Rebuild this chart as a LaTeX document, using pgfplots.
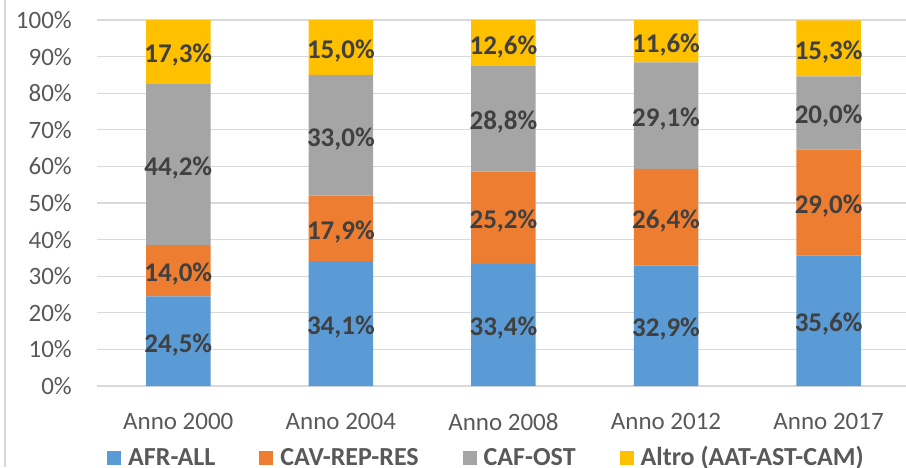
\documentclass[border=0pt]{standalone}
\usepackage{pgfplots}
\pgfplotsset{compat=1.18}
\usepackage{pgfplotstable}
\usepackage{fontspec}
\setmainfont{Carlito}
\definecolor{cBlue}{HTML}{5B9BD5}
\definecolor{cOrange}{HTML}{ED7D31}
\definecolor{cGray}{HTML}{A5A5A5}
\definecolor{cYellow}{HTML}{FFC000}
\definecolor{gridc}{HTML}{D9D9D9}
\definecolor{tickc}{HTML}{595959}
\definecolor{labc}{HTML}{404040}

\pgfplotstableread{
x a b c d
0 24.5 14.0 44.2 17.3
1 34.1 17.9 33.0 15.0
2 33.4 25.2 28.8 12.6
3 32.9 26.4 29.1 11.6
4 35.6 29.0 20.0 15.3
}\data

\begin{document}
\begin{tikzpicture}
\begin{axis}[
  ybar stacked, bar width=64.5pt,
  scale only axis, width=812.9pt, height=366pt,
  at={(97pt,81pt)}, anchor=south west,
  xmin=-0.5, xmax=4.5, ymin=0, ymax=100,
  axis line style={draw=none}, major tick length=0pt,
  ytick={0,10,20,30,40,50,60,70,80,90,100},
  yticklabels={0\%,10\%,20\%,30\%,40\%,50\%,60\%,70\%,80\%,90\%,100\%},
  ymajorgrids, grid style={gridc, line width=1.3pt},
  xtick={0,1,2,3,4},
  xticklabels={Anno 2000,Anno 2004,Anno 2008,Anno 2012,Anno 2017},
  ticklabel style={font=\fontsize{25}{30}\selectfont, text=tickc},
  yticklabel style={anchor=east, inner sep=0pt, xshift=-25pt},
  xticklabel style={anchor=north, inner sep=0pt, yshift=-27pt},
  point meta=explicit,
  nodes near coords={\pgfmathprintnumber[fixed,fixed zerofill,precision=1,use comma,assume math mode=true]{\pgfplotspointmeta}\%},
  every node near coord/.style={font=\bfseries\fontsize{27}{32}\selectfont, text=labc, anchor=center, inner sep=0pt, yshift=-3.5pt},
  legend columns=4,
  legend style={at={(0.0123,-0.1927)}, anchor=west, draw=none, fill=none, inner sep=0pt,
    font=\bfseries\fontsize{26}{31}\selectfont, text=tickc,
    nodes={inner sep=0pt, text height=17pt, text depth=0pt},
    /tikz/every even column/.append style={column sep=44pt},
    /tikz/every odd column/.append style={column sep=7pt}},
  legend cell align=left,
  legend image code/.code={\fill[#1] (0pt,-8.5pt) rectangle (14pt,5.5pt);},
]
\addplot[fill=cBlue, draw=none] table[x=x,y=a,meta=a]{\data};
\addlegendentry{AFR-ALL}
\addplot[fill=cOrange, draw=none] table[x=x,y=b,meta=b]{\data};
\addlegendentry{CAV-REP-RES}
\addplot[fill=cGray, draw=none] table[x=x,y=c,meta=c]{\data};
\addlegendentry{CAF-OST}
\addplot[fill=cYellow, draw=none] table[x=x,y=d,meta=d]{\data};
\addlegendentry{Altro (AAT-AST-CAM)}
\end{axis}
\draw[gridc, line width=1.3pt] (5pt,0pt) -- (5pt,467pt);
\pgfresetboundingbox
\useasboundingbox (0pt,0pt) rectangle (906pt,467pt);
\end{tikzpicture}
\end{document}
